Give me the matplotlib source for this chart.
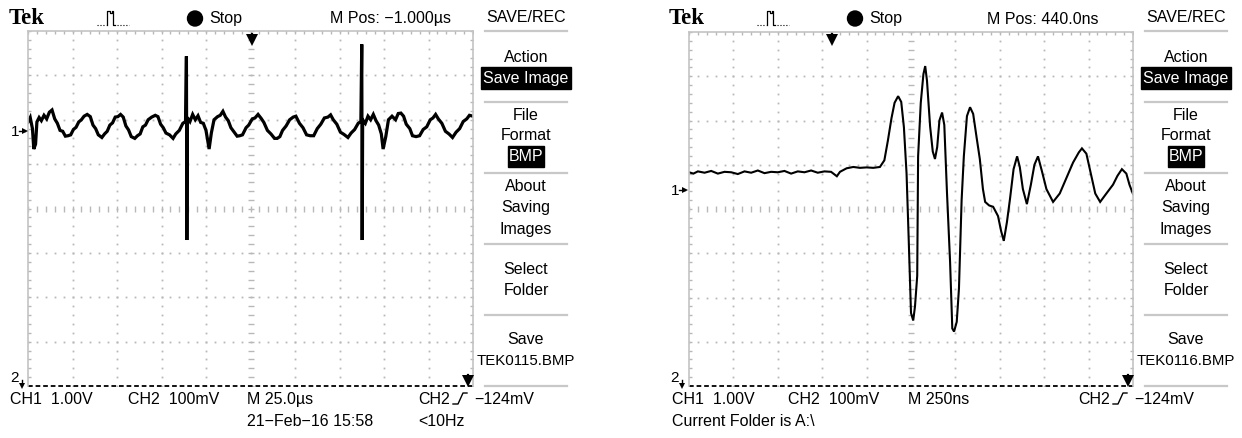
import matplotlib
matplotlib.use("Agg")
import matplotlib.pyplot as plt
from matplotlib.patches import Rectangle, Circle

# left capture: 25 us/div, trace in divisions (x 0..10, y -4..4)
left_x = [0.00, 0.05, 0.10, 0.13, 0.17, 0.20, 0.25, 0.30, 0.36, 0.42, 0.48, 0.54, 0.60, 0.66,
          0.72, 0.78, 0.84, 0.90, 0.96, 1.02, 1.08, 1.14, 1.20, 1.26, 1.33, 1.40, 1.46, 1.52,
          1.58, 1.66, 1.72, 1.78, 1.84, 1.90, 1.96, 2.02, 2.08, 2.14, 2.20, 2.26, 2.32, 2.40,
          2.46, 2.52, 2.58, 2.64, 2.70, 2.78, 2.86, 2.92, 2.98, 3.04, 3.10, 3.18, 3.26, 3.32,
          3.40, 3.48, 3.54, 3.56, 3.57, 3.58, 3.64, 3.70, 3.76, 3.82, 3.88, 3.94, 4.00, 4.07,
          4.12, 4.18, 4.26, 4.32, 4.38, 4.44, 4.50, 4.56, 4.62, 4.70, 4.76, 4.82, 4.90, 4.96,
          5.04, 5.10, 5.17, 5.24, 5.30, 5.38, 5.46, 5.54, 5.60, 5.66, 5.72, 5.80, 5.88, 5.96,
          6.02, 6.10, 6.18, 6.26, 6.34, 6.42, 6.50, 6.58, 6.66, 6.74, 6.80, 6.86, 6.94, 7.02,
          7.10, 7.19, 7.26, 7.34, 7.42, 7.48, 7.50, 7.51, 7.52, 7.58, 7.64, 7.70, 7.76, 7.82,
          7.88, 7.94, 7.98, 8.04, 8.10, 8.18, 8.26, 8.32, 8.38, 8.44, 8.50, 8.58, 8.64, 8.72,
          8.80, 8.88, 8.96, 9.04, 9.10, 9.16, 9.22, 9.30, 9.38, 9.46, 9.54, 9.62, 9.70, 9.78,
          9.86, 9.92, 10.0]
left_y = [1.95, 2.05, 1.80, 1.34, 1.45, 1.95, 2.05, 1.98, 2.10, 2.02, 2.17, 2.22, 2.02, 1.92,
          1.76, 1.74, 1.63, 1.64, 1.66, 1.78, 1.83, 1.95, 2.00, 2.08, 2.12, 2.07, 1.88, 1.80,
          1.66, 1.60, 1.68, 1.74, 1.88, 1.93, 2.06, 2.07, 2.12, 2.06, 1.86, 1.77, 1.62, 1.58,
          1.64, 1.68, 1.84, 1.88, 2.00, 2.06, 2.10, 2.07, 1.90, 1.82, 1.70, 1.66, 1.58, 1.68,
          1.76, 1.92, 1.96, 3.43, -0.71, 2.05, 1.96, 2.12, 2.00, 2.09, 1.94, 1.92, 1.76, 1.34,
          1.70, 2.00, 2.07, 2.10, 2.19, 2.06, 1.98, 1.82, 1.74, 1.63, 1.64, 1.66, 1.82, 1.88,
          2.02, 2.04, 2.12, 2.03, 1.94, 1.76, 1.68, 1.58, 1.58, 1.62, 1.76, 1.86, 2.00, 2.06,
          2.08, 1.92, 1.82, 1.66, 1.64, 1.64, 1.80, 1.90, 2.04, 2.06, 2.11, 2.00, 1.90, 1.72,
          1.67, 1.60, 1.70, 1.78, 1.92, 1.96, 3.70, -0.71, 2.00, 1.92, 2.08, 2.00, 2.12, 1.98,
          1.88, 1.68, 1.34, 1.62, 2.00, 2.08, 2.00, 2.14, 2.15, 2.08, 1.90, 1.80, 1.64, 1.62,
          1.64, 1.78, 1.84, 2.00, 2.04, 2.12, 2.02, 1.92, 1.74, 1.68, 1.60, 1.72, 1.80, 1.96,
          2.02, 2.10, 2.08]

# right capture: 250 ns/div
right_x = [0.00, 0.10, 0.20, 0.35, 0.50, 0.65, 0.80, 0.95, 1.10, 1.25, 1.40, 1.55, 1.70, 1.85,
           2.00, 2.15, 2.30, 2.45, 2.60, 2.75, 2.90, 3.05, 3.20, 3.33, 3.40, 3.55, 3.70, 3.85,
           4.00, 4.15, 4.30, 4.40, 4.48, 4.56, 4.63, 4.71, 4.78, 4.84, 4.90, 4.95, 5.00, 5.05,
           5.09, 5.14, 5.16, 5.22, 5.28, 5.32, 5.36, 5.43, 5.49, 5.54, 5.59, 5.64, 5.70, 5.75,
           5.81, 5.88, 5.93, 5.97, 6.03, 6.08, 6.14, 6.19, 6.26, 6.33, 6.40, 6.48, 6.55, 6.62,
           6.67, 6.76, 6.85, 6.96, 7.03, 7.09, 7.16, 7.23, 7.31, 7.39, 7.45, 7.52, 7.61, 7.70,
           7.78, 7.86, 7.95, 8.05, 8.20, 8.35, 8.50, 8.65, 8.78, 8.85, 8.95, 9.05, 9.15, 9.26,
           9.40, 9.55, 9.65, 9.75, 9.85, 9.92, 10.0]
right_y = [0.83, 0.80, 0.85, 0.82, 0.86, 0.80, 0.84, 0.83, 0.79, 0.85, 0.82, 0.87, 0.81, 0.84,
           0.83, 0.86, 0.80, 0.85, 0.83, 0.87, 0.82, 0.85, 0.84, 0.74, 0.84, 0.92, 0.95, 0.93,
           0.94, 0.93, 0.95, 1.10, 1.55, 2.05, 2.40, 2.55, 2.42, 1.85, 0.80, -0.74, -2.35, -2.52,
           -2.20, -1.51, 1.19, 2.40, 3.05, 3.23, 2.90, 1.87, 1.30, 1.13, 1.40, 2.00, 2.18, 1.90,
           0.38, -1.19, -2.70, -2.77, -2.55, -1.80, 0.20, 1.19, 2.10, 2.30, 2.15, 1.60, 1.13, 0.45,
           0.16, 0.08, 0.05, -0.16, -0.50, -0.72, -0.30, 0.23, 0.90, 1.19, 0.95, 0.45, 0.11, 0.55,
           1.00, 1.19, 0.85, 0.45, 0.16, 0.35, 0.70, 1.05, 1.28, 1.37, 1.25, 0.80, 0.35, 0.16,
           0.35, 0.55, 0.75, 0.90, 0.80, 0.55, 0.34]

W, H = 1242, 439
GRID = "#b8b8b8"
FONT = "Liberation Sans"
FS = 11.5

fig = plt.figure(figsize=(W / 100, H / 100), dpi=100)
fig.patch.set_facecolor("white")


def screen(x0, y0, w, h, xs, ys, lw):
    ax = fig.add_axes([x0 / W, 1 - (y0 + h) / H, w / W, h / H])
    ax.set_xlim(0, 10)
    ax.set_ylim(-4, 4)
    ax.set_xticks([])
    ax.set_yticks([])
    for s in ["top", "left", "right"]:
        ax.spines[s].set_color("#c4c4c4")
        ax.spines[s].set_linewidth(1.2)
    ax.spines["bottom"].set_visible(False)
    fx = [0.2 * i for i in range(51)]
    fy = [-4 + 0.2 * j for j in range(41)]
    for k in range(1, 10):
        if k != 5:
            ax.plot([k] * len(fy), fy, ls="none", marker="s", ms=1.3, mew=0, color=GRID)
    for k in range(-3, 4):
        if k != 0:
            ax.plot(fx, [k] * len(fx), ls="none", marker="s", ms=1.3, mew=0, color=GRID)
    ax.plot([5] * len(fy), fy, ls="none", marker="_", ms=5, mew=1.0, color=GRID)
    ax.plot(fx, [0] * len(fx), ls="none", marker="|", ms=5, mew=1.0, color=GRID)
    # border ticks
    ax.plot(fx, [4] * len(fx), ls="none", marker="|", ms=5, mew=1.0, color=GRID)
    ax.plot([0] * len(fy), fy, ls="none", marker="_", ms=5, mew=1.0, color=GRID)
    ax.plot([10] * len(fy), fy, ls="none", marker="_", ms=5, mew=1.0, color=GRID)
    # CH2 parked on the bottom edge
    ln, = ax.plot([0, 10], [-4, -4], color="black", lw=1.3, clip_on=False)
    ln.set_dashes([2.6, 1.6])
    ax.plot(xs, ys, color="black", lw=lw, solid_joinstyle="miter")
    return ax


screen(28, 32, 445, 355, left_x, left_y, 2.3)
screen(689, 33, 444, 354, right_x, right_y, 1.5)

ov = fig.add_axes([0, 0, 1, 1], zorder=10)
ov.set_xlim(0, W)
ov.set_ylim(H, 0)
ov.axis("off")
ov.patch.set_alpha(0)


def t(x, y, s, ha="left", size=FS, color="black", **kw):
    ov.text(x, y, s, ha=ha, va="center", fontsize=size, family=FONT, color=color, **kw)


def panel(dx, gx1, mpos, trig_x, ch1_y, fname, bottom_left, bottom_extra):
    # header
    ov.text(dx + 9, 19, "Tek", ha="left", va="center", fontsize=16.5, family="Liberation Serif",
            fontweight="bold")
    ix = dx + 97
    ov.plot([ix, ix + 9], [26, 26], color="black", lw=0.8, ls=":")
    ov.plot([ix + 10, ix + 10, ix + 13, ix + 13, ix + 15, ix + 15, ix + 16, ix + 16, ix + 18],
            [26, 12, 12, 14, 14, 12, 12, 26, 26], color="black", lw=0.9)
    ov.plot([ix + 20, ix + 32], [26, 26], color="black", lw=0.8, ls=":")
    ov.add_patch(Circle((dx + 195, 19.5), 7.5, color="black"))
    t(dx + 209, 19, "Stop")
    t(mpos[0], 19, mpos[1], ha="center")
    # trigger position arrow
    ov.plot([trig_x, trig_x], [35, 40], color="black", lw=1.6)
    ov.plot([trig_x], [41], marker="v", ms=8, color="black", mew=0)
    # trigger level arrow on the right edge
    ov.plot([gx1 - 5, gx1 - 5], [376, 381], color="black", lw=1.6)
    ov.plot([gx1 - 5], [382], marker="v", ms=8, color="black", mew=0)
    # channel markers
    t(dx + 11, ch1_y, "1", size=11)
    ov.plot([dx + 19, dx + 25], [ch1_y, ch1_y], color="black", lw=1.0)
    ov.plot([dx + 25], [ch1_y], marker=">", ms=4, color="black", mew=0)
    t(dx + 10, 378, "2", size=11)
    ov.plot([dx + 22, dx + 22], [381, 386], color="black", lw=1.0)
    ov.plot([dx + 22], [387], marker="v", ms=4, color="black", mew=0)
    # side menu
    cx = dx + 526
    t(cx, 18, "SAVE/REC", ha="center")
    for yy in [32, 103, 174, 245, 316, 387]:
        ov.plot([cx - 41, cx + 41], [yy, yy], color="#c8c8c8", lw=1.6)
    t(cx, 57, "Action", ha="center")
    ov.add_patch(Rectangle((cx - 45, 68), 90, 22, color="black"))
    t(cx, 79, "Save Image", ha="center", color="white")
    t(cx, 116, "File", ha="center")
    t(cx, 136, "Format", ha="center")
    ov.add_patch(Rectangle((cx - 18, 147), 36, 21, color="black"))
    t(cx, 157, "BMP", ha="center", color="white")
    t(cx, 187, "About", ha="center")
    t(cx, 208, "Saving", ha="center")
    t(cx, 230, "Images", ha="center")
    t(cx, 270, "Select", ha="center")
    t(cx, 291, "Folder", ha="center")
    t(cx, 340, "Save", ha="center")
    t(cx, 361, fname, ha="center", size=10.8)
    # bottom readout
    for x, s in bottom_left:
        t(x, 400, s)
    t(dx + 418, 400, "CH2")
    sx = dx + 453
    ov.plot([sx, sx + 5, sx + 10, sx + 14], [405, 405, 394, 394], color="black", lw=1.0)
    t(dx + 474, 400, "\u2212124mV")
    for x, s in bottom_extra:
        t(x, 422, s)


panel(0, 473, (391, "M Pos: \u22121.000\u00b5s"), 252, 132, "TEK0115.BMP",
      [(10, "CH1  1.00V"), (128, "CH2  100mV"), (247, "M 25.0\u00b5s")],
      [(247, "21\u2212Feb\u221216 15:58"), (418, "<10Hz")])
panel(660, 1133, (1043, "M Pos: 440.0ns"), 832, 191, "TEK0116.BMP",
      [(672, "CH1  1.00V"), (788, "CH2  100mV"), (908, "M 250ns")],
      [(672, "Current Folder is A:\\")])

fig.savefig("out.png", dpi=100)
